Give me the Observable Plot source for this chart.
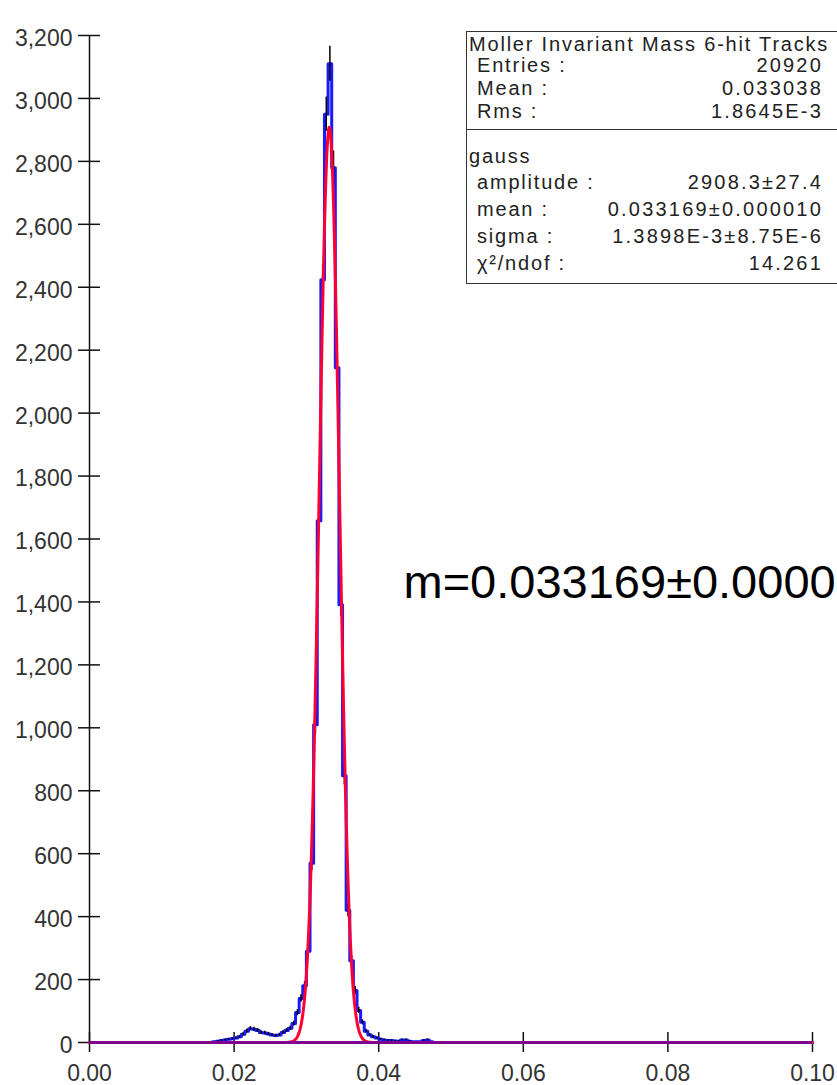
<!DOCTYPE html>
<html><head><meta charset="utf-8">
<script src="https://cdn.jsdelivr.net/npm/d3@7"></script>
<script src="https://cdn.jsdelivr.net/npm/@observablehq/plot@0.6"></script>
<style>
body{margin:0;background:#fff;}
#wrap{position:relative;width:837px;height:1085px;overflow:hidden;font-family:"Liberation Sans",Arial,sans-serif;}
#stats{position:absolute;left:466px;top:31px;width:440px;height:251px;border:1.5px solid #333;background:#fff;color:#222;font-size:20px;letter-spacing:1.8px;}
#stats .row{position:absolute;left:0;width:356px;height:24px;line-height:24px;white-space:nowrap;}
#stats .lab{position:absolute;left:10px;}
#stats .val{position:absolute;right:0;letter-spacing:2.2px;}
#stats .head{position:absolute;left:2px;letter-spacing:1.8px;}
#stats .div{position:absolute;left:0;width:100%;height:0;border-top:1.5px solid #333;}
</style></head><body>
<div id="wrap"><div id="chart"></div><div id="stats"></div></div>
<script>
// ---- data ----
const xMin = 0, xMax = 0.1, binWidth = 0.0005;
const firstBin = 34;           // index of first listed bin (bins of 0.0005 from 0)
const counts = [2,4,6,8,10,12,14,18,26,36,44,42,38,32,30,27,24,22,24,32,38,45,60,
  95,140,180,290,570,1010,1658,2424,2950,3110,2780,2144,1391,848,
  420,260,165,102,64,36,24,18,14,10,8,6,6,5,4,8,8,4,2,2,2,6,8,2];
const yTicks = [0,200,400,600,800,1000,1200,1400,1600,1800,2000,2200,2400,2600,2800,3000,3200];
const xTicks = [0,0.02,0.04,0.06,0.08,0.10];
const fitParams = {amplitude: 2908.3, mean: 0.033169, sigma: 1.3898e-3};
const statsTitle = "Moller Invariant Mass 6-hit Tracks";
const statsLabels = ["Entries :", "Mean :", "Rms :"];
const statsValues = ["20920", "0.033038", "1.8645E-3"];
const fitName = "gauss";
const fitLabels = ["amplitude :", "mean :", "sigma :", "χ²/ndof :"];
const fitValues = ["2908.3±27.4", "0.033169±0.000010", "1.3898E-3±8.75E-6", "14.261"];
const annotation = ["m=0.033169±0.000010"];

// ---- derived tables ----
const nBins = Math.round((xMax - xMin) / binWidth);
const bins = d3.range(nBins).map(i => {
  const k = i - firstBin;
  return {lo: xMin + i * binWidth, c: (k >= 0 && k < counts.length) ? counts[k] : 0};
});
const stepPts = bins.map(b => ({x: b.lo, y: b.c})).concat([{x: xMax, y: 0}]);
const errBars = bins.filter(b => b.c > 0).map(b => ({x: b.lo + binWidth / 2, lo: b.c - Math.sqrt(b.c), hi: b.c + Math.sqrt(b.c)}));
const gauss = x => fitParams.amplitude * Math.exp(-0.5 * ((x - fitParams.mean) / fitParams.sigma) ** 2);
const fitPts = d3.range(0, 2001).map(i => { const x = xMin + i * (xMax - xMin) / 2000; return {x, y: gauss(x)}; });

const font = "'Liberation Sans', Arial, sans-serif";
const chart = Plot.plot({
  width: 837, height: 1085,
  marginLeft: 89, marginRight: 25, marginTop: 35, marginBottom: 43,
  x: {domain: [xMin, xMax]},
  y: {domain: [0, 3200]},
  style: {fontFamily: font, background: "transparent", color: "#333", overflow: "visible"},
  marks: [
    Plot.ruleX([0], {stroke: "#111", strokeWidth: 1.5}),
    Plot.ruleY(yTicks, {x1: 0, x2: 0, insetLeft: -11, insetRight: -11, stroke: "#111", strokeWidth: 1.5}),
    Plot.ruleX(xTicks, {y1: 0, y2: 0, insetTop: -10, insetBottom: -10, stroke: "#111", strokeWidth: 1.5}),
    Plot.axisY({ticks: yTicks, tickSize: 0, tickPadding: 17, tickFormat: d3.format(","), fontSize: 23, dy: 3, label: null}),
    Plot.axisX({ticks: xTicks, tickSize: 0, tickPadding: 22, tickFormat: d3.format(".2f"), fontSize: 23, label: null}),
    Plot.line(stepPts, {x: "x", y: "y", curve: "step-after", stroke: "#1a1aff", strokeWidth: 3}),
    Plot.ruleX(errBars, {x: "x", y1: "lo", y2: "hi", stroke: "#000", strokeWidth: 1.5}),
    Plot.line(fitPts, {x: "x", y: "y", stroke: "#ff0033", strokeWidth: 3}),
    Plot.ruleY([0], {stroke: "#800090", strokeWidth: 3}),
    Plot.text(annotation, {text: d => d, frameAnchor: "top-left", lineAnchor: "middle", dx: 314, dy: 547, textAnchor: "start", fontSize: 47, fill: "#000", fontFamily: font})
  ]
});
document.getElementById("chart").appendChild(chart);

// ---- stats box ----
const box = document.getElementById("stats");
const top0 = 31;
function addRow(center, label, value, head) {
  const r = document.createElement("div");
  r.className = "row";
  r.style.top = (center - top0 - 12) + "px";
  const l = document.createElement("span");
  l.className = head ? "head" : "lab";
  l.textContent = label;
  r.appendChild(l);
  if (value != null) { const v = document.createElement("span"); v.className = "val"; v.textContent = value; r.appendChild(v); }
  box.appendChild(r);
}
addRow(43, statsTitle, null, true);
const c1 = [64, 87, 110];
statsLabels.forEach((l, i) => addRow(c1[i], l, statsValues[i]));
const d = document.createElement("div"); d.className = "div"; d.style.top = (128 - top0) + "px"; box.appendChild(d);
addRow(155, fitName, null, true);
const c2 = [181, 208, 235, 262];
fitLabels.forEach((l, i) => addRow(c2[i], l, fitValues[i]));
</script>
</body></html>
